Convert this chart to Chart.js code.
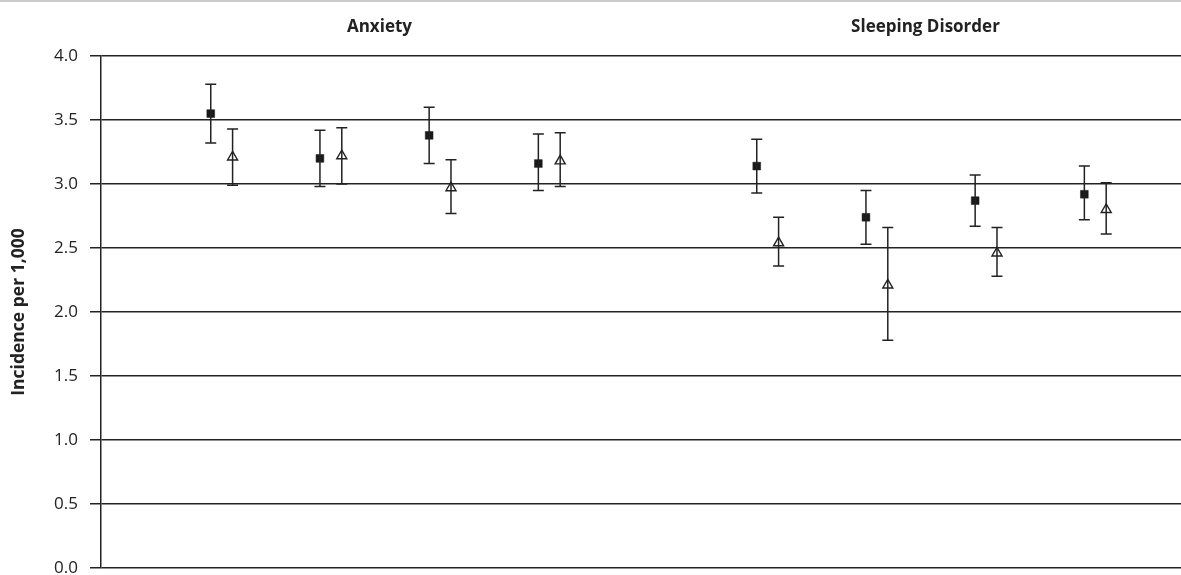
<!DOCTYPE html>
<html>
<head>
<meta charset="utf-8">
<title>Incidence per 1,000</title>
<script src="https://cdn.jsdelivr.net/npm/chart.js@4.4.1/dist/chart.umd.min.js"></script>
<style>
    html, body { margin: 0; padding: 0; background: #fff; }
    #wrap { position: relative; width: 1181px; height: 575px; }
</style>
</head>
<body>
<div id="wrap"><canvas id="chart"></canvas></div>
<script>
// group headings and where each pair sits on the x axis (gap between the groups)
const groupNames = ['Anxiety', 'Sleeping Disorder'];
const groupOf = [0, 0, 0, 0, 1, 1, 1, 1];
const slots = [1, 2, 3, 4, 6, 7, 8, 9];

// filled squares
const squareMean = [3.55, 3.20, 3.38, 3.16, 3.14, 2.74, 2.87, 2.92];
const squareLow = [3.32, 2.98, 3.16, 2.95, 2.93, 2.53, 2.67, 2.72];
const squareHigh = [3.78, 3.42, 3.60, 3.39, 3.35, 2.95, 3.07, 3.14];

// open triangles
const triMean = [3.21, 3.22, 2.97, 3.18, 2.54, 2.21, 2.46, 2.80];
const triLow = [2.99, 3.00, 2.77, 2.98, 2.36, 1.78, 2.28, 2.61];
const triHigh = [3.43, 3.44, 3.19, 3.40, 2.74, 2.66, 2.66, 3.01];

const yTicks = [0, 0.5, 1.0, 1.5, 2.0, 2.5, 3.0, 3.5, 4.0];

const ink = '#222222';
const pairShift = 0.1;

const squarePoints = slots.map((s, i) => ({ x: s - pairShift, y: squareMean[i], lo: squareLow[i], hi: squareHigh[i] }));
const triPoints = slots.map((s, i) => ({ x: s + pairShift, y: triMean[i], lo: triLow[i], hi: triHigh[i] }));

const errorBars = {
    id: 'errorBars',
    afterDatasetsDraw(chart) {
        const { ctx, scales: { x, y } } = chart;
        ctx.save();
        ctx.strokeStyle = ink;
        ctx.lineWidth = 1.5;
        chart.data.datasets.forEach((ds) => {
            ds.data.forEach((p) => {
                const px = x.getPixelForValue(p.x);
                const top = y.getPixelForValue(p.hi);
                const bottom = y.getPixelForValue(p.lo);
                ctx.beginPath();
                ctx.moveTo(px, top);
                ctx.lineTo(px, bottom);
                ctx.moveTo(px - 5.5, top);
                ctx.lineTo(px + 5.5, top);
                ctx.moveTo(px - 5.5, bottom);
                ctx.lineTo(px + 5.5, bottom);
                ctx.stroke();
            });
        });
        ctx.restore();
    },
};

const headings = {
    id: 'headings',
    beforeDraw(chart) {
        const { ctx, scales: { x }, width } = chart;
        ctx.save();
        ctx.strokeStyle = '#cccccc';
        ctx.lineWidth = 2;
        ctx.beginPath();
        ctx.moveTo(0, 1);
        ctx.lineTo(width, 1);
        ctx.stroke();

        ctx.fillStyle = '#222';
        ctx.font = 'bold 17px "Open Sans"';
        ctx.textAlign = 'center';
        ctx.textBaseline = 'middle';
        groupNames.forEach((name, g) => {
            const mine = slots.filter((s, i) => groupOf[i] === g);
            const mid = (Math.min(...mine) + Math.max(...mine)) / 2;
            ctx.fillText(name, x.getPixelForValue(mid) - 6, 27);
        });
        ctx.restore();
    },
};

new Chart(document.getElementById('chart'), {
    type: 'scatter',
    data: {
        datasets: [
            {
                label: 'Square',
                data: squarePoints,
                pointStyle: 'rect',
                pointRadius: 5.5,
                pointBackgroundColor: '#1a1a1a',
                pointBorderColor: '#1a1a1a',
                pointBorderWidth: 0.5,
                clip: false,
            },
            {
                label: 'Triangle',
                data: triPoints,
                pointStyle: 'triangle',
                pointRadius: 5.8,
                pointBackgroundColor: 'rgba(255,255,255,0)',
                pointBorderColor: ink,
                pointBorderWidth: 1.4,
                clip: false,
            },
        ],
    },
    options: {
        responsive: true,
        maintainAspectRatio: false,
        animation: false,
        layout: { autoPadding: false, padding: { top: 56, bottom: 7, left: 0, right: 0 } },
        plugins: {
            legend: { display: false },
            tooltip: { enabled: false },
        },
        scales: {
            x: {
                type: 'linear',
                display: false,
                min: -0.105,
                max: 9.785,
            },
            y: {
                min: 0,
                max: 4,
                afterBuildTicks(scale) {
                    scale.ticks = yTicks.map((v) => ({ value: v }));
                },
                afterFit(scale) {
                    scale.width = 101;
                    scale.paddingTop = 0;
                    scale.paddingBottom = 0;
                },
                ticks: {
                    padding: 12,
                    color: '#222',
                    font: { family: '"Open Sans"', size: 17 },
                    callback: (v) => Number(v).toFixed(1),
                },
                grid: {
                    color: ink,
                    lineWidth: 1.5,
                    tickLength: 11,
                    drawTicks: true,
                },
                border: { display: true, color: ink, width: 1.5 },
                title: {
                    display: true,
                    text: 'Incidence per 1,000',
                    color: '#222',
                    font: { family: '"Open Sans"', size: 17.5, weight: 'bold' },
                    padding: { top: 9, bottom: 0 },
                },
            },
        },
    },
    plugins: [headings, errorBars],
});
</script>
</body>
</html>
